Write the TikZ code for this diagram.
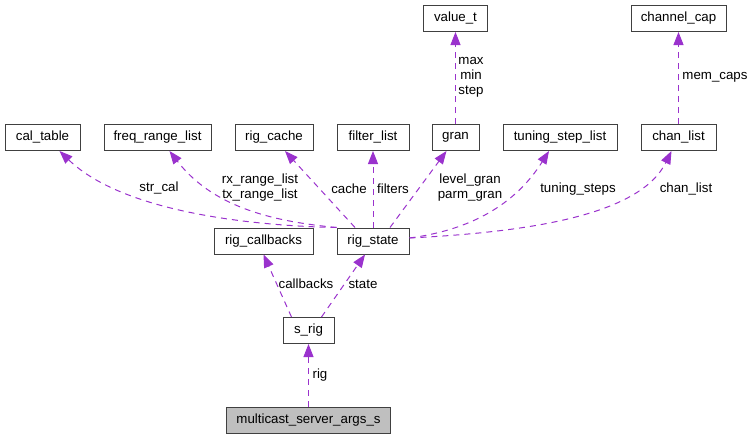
\documentclass[tikz,border=0pt]{standalone}
\usepackage{fontspec}
\setmainfont{Liberation Sans}
\usepackage{tikz}
\usetikzlibrary{arrows.meta}
\definecolor{edgepurple}{HTML}{9A32CD}
\definecolor{boxgray}{HTML}{BFBFBF}
\tikzstyle{classbox}=[rectangle,minimum height=26pt,inner sep=0pt,text centered,
draw=black!75,line width=1pt,font=\fontsize{13.3}{15}\selectfont]
\tikzstyle{mainbox}=[classbox,fill=boxgray]
\tikzstyle{lbl}=[inner sep=0pt,align=center,font=\fontsize{13.3}{15}\selectfont]
\tikzstyle{arrow}=[edgepurple,line width=1pt,dash pattern=on 6pt off 5pt,
-{Triangle[length=13pt,width=10pt]}]

\begin{document}
\begin{tikzpicture}[x=1pt,y=-1pt,node distance=119pt]
        \useasboundingbox (0,0) rectangle (753,439);
        \node (cal_table) [classbox,minimum width=75pt] at (42.5,137.5) {cal\_table};
        \node (freq_range_list) [classbox,minimum width=107pt] at (157.5,137.5) {freq\_range\_list};
        \node (rig_cache) [classbox,minimum width=78pt] at (274,137.5) {rig\_cache};
        \node (filter_list) [classbox,minimum width=72pt] at (373,137.5) {filter\_list};
        \node (gran) [classbox,minimum width=47pt] at (455.5,137.5) {gran};
        \node (tuning_step_list) [classbox,minimum width=114pt] at (560,137.5) {tuning\_step\_list};
        \node (chan_list) [classbox,minimum width=75pt] at (678.5,137.5) {chan\_list};
        \node (value_t) [classbox,minimum width=64pt,above of=gran] {value\_t};
        \node (channel_cap) [classbox,minimum width=95pt,above of=chan_list] {channel\_cap};
        \node (rig_callbacks) [classbox,minimum width=99pt] at (263.5,241) {rig\_callbacks};
        \node (rig_state) [classbox,minimum width=72pt] at (373,241) {rig\_state};
        \node (s_rig) [classbox,minimum width=51pt] at (308.5,330.5) {s\_rig};
        \node (msa) [mainbox,minimum width=164pt,below of=s_rig,node distance=89.5pt] {multicast\_server\_args\_s};

        \draw [arrow] (rig_state.north west) .. controls (260,226) and (125,214) .. ([xshift=17pt]cal_table.south);
        \draw [arrow] (rig_state.north west) .. controls (280,222) and (215,210) .. ([xshift=12pt]freq_range_list.south);
        \draw [arrow] ([xshift=-18pt]rig_state.north) -- ([xshift=11pt]rig_cache.south);
        \draw [arrow] (rig_state) -- (filter_list);
        \draw [arrow] ([xshift=17pt]rig_state.north) -- ([xshift=-9pt]gran.south);
        \draw [arrow] ([yshift=3pt]rig_state.east) .. controls (470,230) and (515,205) .. ([xshift=-11pt]tuning_step_list.south);
        \draw [arrow] ([yshift=3pt]rig_state.east) .. controls (530,232) and (640,215) .. ([xshift=-7pt]chan_list.south);
        \draw [arrow] (gran) -- (value_t);
        \draw [arrow] (chan_list) -- (channel_cap);
        \draw [arrow] ([xshift=-17pt]s_rig.north) -- (rig_callbacks.south);
        \draw [arrow] ([xshift=13pt]s_rig.north) -- ([xshift=-8pt]rig_state.south);
        \draw [arrow] (msa) -- (s_rig);

        \node (l_strcal) [lbl] at (159,188) {str\_cal};
        \node (l_range) [lbl] at (260,188) {rx\_range\_list\\tx\_range\_list};
        \node (l_cache) [lbl] at (349,189) {cache};
        \node (l_filters) [lbl] at (393,189) {filters};
        \node (l_gran) [lbl] at (470,188) {level\_gran\\parm\_gran};
        \node (l_steps) [lbl] at (578,189) {tuning\_steps};
        \node (l_chan) [lbl] at (686,189) {chan\_list};
        \node (l_value) [lbl] at (471,77) {max\\min\\step};
        \node (l_caps) [lbl] at (715,77) {mem\_caps};
        \node (l_callbacks) [lbl] at (306,284) {callbacks};
        \node (l_state) [lbl] at (363,284) {state};
        \node (l_rig) [lbl] at (320,375) {rig};
    \end{tikzpicture}
\end{document}
